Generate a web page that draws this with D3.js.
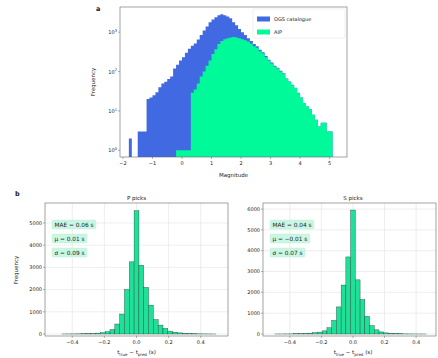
<!DOCTYPE html>
<html>
<head>
<meta charset="utf-8">
<script src="https://cdn.jsdelivr.net/npm/d3@7"></script>
<style>
  body { margin: 0; background: #fff; }
  svg { display: block; font-family: "DejaVu Sans", sans-serif; }
</style>
</head>
<body>
<div id="chart"></div>
<script>
// ---- data: panel a (magnitude histograms, bin width 0.1, left edges -1.8 .. 5.0)
const magBins = d3.range(-18, 51).map(i => i / 10);
const catalogueCounts = [
  2, 0, 0, 3, 3, 3, 20, 22, 25, 30,            // -1.8 .. -0.9
  40, 50, 55, 65, 75, 120, 150, 190,           // -0.8 .. -0.1
  230, 300, 380, 450, 520, 650, 850, 1100, 1400, 1800,   // 0.0 .. 0.9
  2100, 2400, 2700, 2850, 2700, 2500, 2250, 1800, 1500, 1200, // 1.0 .. 1.9
  1000, 850, 700, 600, 500, 440, 360, 310, 250, 200,     // 2.0 .. 2.9
  170, 140, 125, 105, 90, 67, 56, 46, 39, 29,            // 3.0 .. 3.9
  22, 16, 13, 11, 8, 6, 4, 5, 5, 3,                      // 4.0 .. 4.9
  3                                                      // 5.0
];
const datasetCounts = [
  0, 0, 0, 0, 0, 0, 0, 0, 0, 0,
  0, 0, 0, 0, 0, 0, 1, 1,
  1, 1, 1, 29, 35, 50, 75, 100, 140, 190,
  280, 370, 500, 600, 660, 700, 730, 750, 730, 700,
  660, 620, 580, 520, 440, 400, 330, 290, 230, 190,
  160, 135, 120, 100, 88, 65, 55, 45, 38, 28,
  22, 16, 13, 11, 8, 6, 4, 5, 5, 3,
  3
];
const legendLabels = ["OGS catalogue", "AIP"];
const magTicks = [-2, -1, 0, 1, 2, 3, 4, 5];
const logTicks = [0, 1, 2, 3];

// ---- data: panel b (pick residual histograms, bin width 0.03, centres -0.48 .. 0.48)
const resBins = d3.range(-16, 17).map(i => i * 0.03);
const pCounts = [
  0, 2, 3, 5, 8, 12, 18, 25, 40, 60, 100, 200, 450, 900, 2000, 3250,
  5550,
  3100, 2100, 1300, 650, 400, 250, 130, 80, 50, 30, 20, 12, 8, 5, 3, 1
];
const sCounts = [
  1, 2, 4, 6, 10, 15, 25, 40, 60, 90, 150, 300, 650, 1300, 2350, 3700,
  5950,
  2600, 1650, 850, 400, 200, 100, 55, 30, 18, 10, 6, 4, 2, 1, 1, 0
];
const resTicks = [-0.4, -0.2, 0.0, 0.2, 0.4];
const pFreqTicks = [0, 1000, 2000, 3000, 4000, 5000];
const sFreqTicks = [0, 1000, 2000, 3000, 4000, 5000, 6000];
const pStats = ["MAE = 0.06 s", "\u03bc = 0.01 s", "\u03c3 = 0.09 s"];
const sStats = ["MAE = 0.04 s", "\u03bc = \u22120.01 s", "\u03c3 = 0.07 s"];

const W = 438, H = 358;
const BLUE = "#4169e1", GREEN = "#00fa9a";
const SPINE = "#666", GRID = "#e2e2e2", TXT = "#222";

const svg = d3.select("#chart").append("svg").attr("width", W).attr("height", H);

// ================= panel a =================
const a = { left: 120, right: 347, top: 7, bottom: 157 };
const xa = d3.scaleLinear().domain([-2.1, 5.59]).range([a.left, a.right]);
const ya = d3.scaleLog().domain([Math.pow(10, -0.17), Math.pow(10, 3.64)]).range([a.bottom, a.top]);

const ga = svg.append("g");

// step-filled histogram as one path (no seams between bins)
function drawLogHist(counts, color) {
  const pts = [];
  magBins.forEach((b, i) => {
    const c = counts[i];
    const yy = c > 0 ? ya(c) : a.bottom;
    pts.push([xa(b), yy], [xa(b + 0.1), yy]);
  });
  const area = d3.area().x(d => d[0]).y0(a.bottom).y1(d => d[1]);
  ga.append("path").attr("d", area(pts)).attr("fill", color);
}
drawLogHist(catalogueCounts, BLUE);
drawLogHist(datasetCounts, GREEN);

ga.append("rect")
  .attr("x", a.left).attr("y", a.top)
  .attr("width", a.right - a.left).attr("height", a.bottom - a.top)
  .attr("fill", "none").attr("stroke", SPINE).attr("stroke-width", 0.6);

// x ticks
magTicks.forEach(t => {
  ga.append("line").attr("x1", xa(t)).attr("x2", xa(t))
    .attr("y1", a.bottom).attr("y2", a.bottom + 2).attr("stroke", SPINE).attr("stroke-width", 0.5);
  ga.append("text").attr("x", xa(t)).attr("y", a.bottom + 8)
    .attr("text-anchor", "middle").attr("font-size", 5).attr("fill", TXT)
    .text(t < 0 ? "\u2212" + Math.abs(t) : t);
});
// y ticks
logTicks.forEach(e => {
  const yy = ya(Math.pow(10, e));
  ga.append("line").attr("x1", a.left - 2).attr("x2", a.left)
    .attr("y1", yy).attr("y2", yy).attr("stroke", SPINE).attr("stroke-width", 0.5);
  const tx = ga.append("text").attr("x", a.left - 3).attr("y", yy + 2)
    .attr("text-anchor", "end").attr("font-size", 5).attr("fill", TXT);
  tx.append("tspan").text("10");
  tx.append("tspan").attr("dy", -2.2).attr("font-size", 3.6).text(e);
});

ga.append("text").attr("x", (a.left + a.right) / 2).attr("y", 177)
  .attr("text-anchor", "middle").attr("font-size", 5.5).attr("fill", TXT).text("Magnitude");
ga.append("text").attr("transform", `translate(95,${(a.top + a.bottom) / 2}) rotate(-90)`)
  .attr("text-anchor", "middle").attr("font-size", 5.5).attr("fill", TXT).text("Frequency");
ga.append("text").attr("x", 96).attr("y", 11)
  .attr("font-size", 6.5).attr("font-weight", "bold").attr("fill", TXT).text("a");

// legend
const lg = ga.append("g");
lg.append("rect").attr("x", 253).attr("y", 9).attr("width", 92).attr("height", 29)
  .attr("fill", "#fff").attr("fill-opacity", 0.8).attr("stroke", "#ddd").attr("stroke-width", 0.5).attr("rx", 1);
[BLUE, GREEN].forEach((c, i) => {
  lg.append("rect").attr("x", 257).attr("y", 16.5 + i * 13).attr("width", 13).attr("height", 5).attr("fill", c);
  lg.append("text").attr("x", 274).attr("y", 21 + i * 13)
    .attr("font-size", 5).attr("fill", TXT).text(legendLabels[i]);
});

// ================= panel b =================
function drawResPanel(p) {
  const g = svg.append("g");
  const x = d3.scaleLinear().domain(p.xDomain).range([p.left, p.right]);
  const y = d3.scaleLinear().domain(p.yDomain).range([p.bottom, p.top]);

  // grid
  resTicks.forEach(t => {
    g.append("line").attr("x1", x(t)).attr("x2", x(t)).attr("y1", p.top).attr("y2", p.bottom)
      .attr("stroke", GRID).attr("stroke-width", 0.6);
  });
  p.yTicks.forEach(t => {
    g.append("line").attr("x1", p.left).attr("x2", p.right).attr("y1", y(t)).attr("y2", y(t))
      .attr("stroke", GRID).attr("stroke-width", 0.6);
  });

  // bars
  const half = 0.015;
  g.append("g").selectAll("rect")
    .data(resBins.map((b, i) => ({ b, c: p.counts[i] })).filter(d => d.c > 0))
    .enter().append("rect")
    .attr("x", d => x(d.b - half))
    .attr("width", d => x(d.b + half) - x(d.b - half))
    .attr("y", d => y(d.c))
    .attr("height", d => y(0) - y(d.c))
    .attr("fill", "#1fe098")
    .attr("stroke", "#1d4a38").attr("stroke-width", 0.4);

  // frame
  g.append("rect").attr("x", p.left).attr("y", p.top)
    .attr("width", p.right - p.left).attr("height", p.bottom - p.top)
    .attr("fill", "none").attr("stroke", SPINE).attr("stroke-width", 0.6);

  resTicks.forEach(t => {
    g.append("line").attr("x1", x(t)).attr("x2", x(t)).attr("y1", p.bottom).attr("y2", p.bottom + 2)
      .attr("stroke", SPINE).attr("stroke-width", 0.5);
    g.append("text").attr("x", x(t)).attr("y", p.bottom + 8)
      .attr("text-anchor", "middle").attr("font-size", 5).attr("fill", TXT)
      .text(t < 0 ? "\u2212" + Math.abs(t).toFixed(1) : t.toFixed(1));
  });
  p.yTicks.forEach(t => {
    g.append("line").attr("x1", p.left - 2).attr("x2", p.left).attr("y1", y(t)).attr("y2", y(t))
      .attr("stroke", SPINE).attr("stroke-width", 0.5);
    g.append("text").attr("x", p.left - 3).attr("y", y(t) + 1.8)
      .attr("text-anchor", "end").attr("font-size", 5).attr("fill", TXT).text(t);
  });

  g.append("text").attr("x", x(0)).attr("y", p.top - 3)
    .attr("text-anchor", "middle").attr("font-size", 5.5).attr("fill", TXT).text(p.title);

  const xl = g.append("text").attr("x", x(0)).attr("y", 354)
    .attr("text-anchor", "middle").attr("font-size", 5.5).attr("fill", TXT);
  xl.append("tspan").text("t");
  xl.append("tspan").attr("dy", 1.5).attr("font-size", 4).text("true");
  xl.append("tspan").attr("dy", -1.5).text(" \u2212 t");
  xl.append("tspan").attr("dy", 1.5).attr("font-size", 4).text("pred");
  xl.append("tspan").attr("dy", -1.5).text(" (s)");

  // stats boxes
  p.stats.forEach((s, i) => {
    const bx = p.left + 7, by = p.top + 17 + i * 14;
    const t = g.append("text").attr("x", bx + 2.5).attr("y", by + 6.6)
      .attr("font-size", 5.8).attr("fill", TXT).text(s);
    const w = t.node().getComputedTextLength();
    g.insert("rect", "text:last-of-type")
      .attr("x", bx).attr("y", by).attr("width", w + 5).attr("height", 9)
      .attr("rx", 1).attr("fill", "#c9f7e3").attr("stroke", "#b8efd6").attr("stroke-width", 0.4);
    t.raise();
  });
  return g;
}

drawResPanel({
  left: 45, right: 228, top: 203, bottom: 336,
  xDomain: [-0.57, 0.57], yDomain: [-90, 5900],
  counts: pCounts, yTicks: pFreqTicks, title: "P picks", stats: pStats
});
drawResPanel({
  left: 263, right: 436, top: 203, bottom: 336,
  xDomain: [-0.57, 0.526], yDomain: [-96, 6290],
  counts: sCounts, yTicks: sFreqTicks, title: "S picks", stats: sStats
});

svg.append("text").attr("transform", "translate(18,270) rotate(-90)")
  .attr("text-anchor", "middle").attr("font-size", 5.5).attr("fill", TXT).text("Frequency");
svg.append("text").attr("x", 15).attr("y", 196)
  .attr("font-size", 6.5).attr("font-weight", "bold").attr("fill", TXT).text("b");
</script>
</body>
</html>
